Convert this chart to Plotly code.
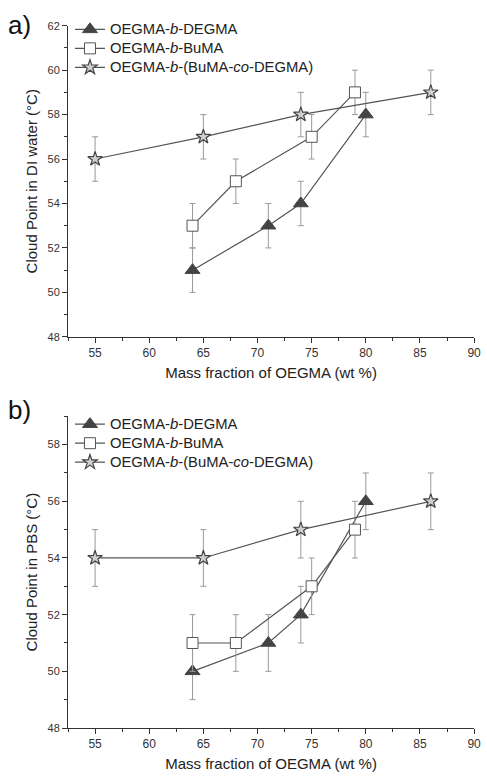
import plotly.graph_objects as go

# ---- data ----
series_names = ["OEGMA-<i>b</i>-DEGMA", "OEGMA-<i>b</i>-BuMA", "OEGMA-<i>b</i>-(BuMA-<i>co</i>-DEGMA)"]

a_degma_x = [64, 71, 74, 80]
a_degma_y = [51, 53, 54, 58]
a_buma_x = [64, 68, 75, 79]
a_buma_y = [53, 55, 57, 59]
a_co_x = [55, 65, 74, 86]
a_co_y = [56, 57, 58, 59]

b_degma_x = [64, 71, 74, 80]
b_degma_y = [50, 51, 52, 56]
b_buma_x = [64, 68, 75, 79]
b_buma_y = [51, 51, 53, 55]
b_co_x = [55, 65, 74, 86]
b_co_y = [54, 54, 55, 56]

err = 1

W, H = 487, 779
FONT = "Liberation Sans, Arial, sans-serif"
LINE = "#555555"
ERRC = "#9a9a9a"

styles = [
    dict(symbol="triangle-up", size=13, color="#444444", line=dict(color="#444444", width=1)),
    dict(symbol="square", size=11, color="white", line=dict(color="#555555", width=1)),
    dict(symbol="star", size=11, color="#d0d0d0", line=dict(color="#444444", width=1.2)),
]

fig = go.Figure()

def lbl(t):
    return '<span style="font-size:14.8px">' + t + '</span>'

def add_panel(datasets, xa, ya, legend_name):
    for i, (xs, ys) in enumerate(datasets):
        fig.add_trace(go.Scatter(
            x=xs, y=ys, mode="lines+markers", name=lbl(series_names[i]),
            xaxis=xa, yaxis=ya, legend=legend_name,
            line=dict(color=LINE, width=1.2),
            marker=styles[i],
            error_y=dict(type="constant", value=err, color=ERRC, thickness=1, width=3),
            cliponaxis=False,
        ))

add_panel([(a_degma_x, a_degma_y), (a_buma_x, a_buma_y), (a_co_x, a_co_y)], "x", "y", "legend")
add_panel([(b_degma_x, b_degma_y), (b_buma_x, b_buma_y), (b_co_x, b_co_y)], "x2", "y2", "legend2")

def px_x(p):
    return p / W

def px_y(p):
    return 1 - p / H

xdom = [px_x(69), px_x(481)]
TITLE_FONT = dict(family=FONT, size=15, color="#222222")

xaxis_common = dict(
    range=[52.5, 90], dtick=5, tick0=0, showgrid=False, zeroline=False,
    showline=True, linecolor="#333333", linewidth=1,
    ticks="outside", ticklen=5, tickcolor="#333333",
    minor=dict(dtick=2.5, ticks="outside", ticklen=3, tickcolor="#333333"),
    tickfont=dict(family=FONT, size=12, color="#333333"),
    ticklabeloverflow="allow",
    title=dict(text="Mass fraction of OEGMA (wt %)", font=TITLE_FONT, standoff=8),
    domain=xdom,
)
yaxis_common = dict(
    dtick=2, tick0=0, showgrid=False, zeroline=False,
    showline=True, linecolor="#333333", linewidth=1,
    ticks="outside", ticklen=5, tickcolor="#333333",
    minor=dict(dtick=1, ticks="outside", ticklen=3, tickcolor="#333333"),
    tickfont=dict(family=FONT, size=11, color="#333333"),
    ticklabeloverflow="allow",
)

legend_common = dict(xanchor="left", yanchor="top", bgcolor="rgba(0,0,0,0)",
                     font=dict(family=FONT, size=12, color="#222222"),
                     tracegroupgap=0, itemwidth=30)

fig.update_layout(
    width=W, height=H,
    margin=dict(l=0, r=0, t=0, b=0),
    paper_bgcolor="white", plot_bgcolor="white",
    font=dict(family=FONT, color="#222222"),
    xaxis=dict(**xaxis_common, anchor="y"),
    yaxis=dict(**yaxis_common, range=[48, 62], domain=[px_y(336), px_y(20)], anchor="x",
               title=dict(text="Cloud Point in DI water (°C)", font=TITLE_FONT, standoff=6)),
    xaxis2=dict(**xaxis_common, anchor="y2"),
    yaxis2=dict(**yaxis_common, range=[48, 59], domain=[px_y(733.3), px_y(416.7)], anchor="x2",
                title=dict(text="Cloud Point in PBS (°C)", font=TITLE_FONT, standoff=6)),
    legend=dict(x=px_x(71), y=px_y(9), **legend_common),
    legend2=dict(x=px_x(71), y=px_y(410), **legend_common),
    showlegend=True,
    annotations=[
        dict(text="a)", x=px_x(6), y=px_y(19), xref="paper", yref="paper",
             xanchor="left", yanchor="middle", showarrow=False,
             font=dict(family=FONT, size=26, color="#111111")),
        dict(text="b)", x=px_x(6), y=px_y(410), xref="paper", yref="paper",
             xanchor="left", yanchor="middle", showarrow=False,
             font=dict(family=FONT, size=26, color="#111111")),
    ],
)

fig.write_html("out.html", config={"displayModeBar": False},
               post_script="document.body.style.margin='0';document.body.style.overflow='hidden';")
